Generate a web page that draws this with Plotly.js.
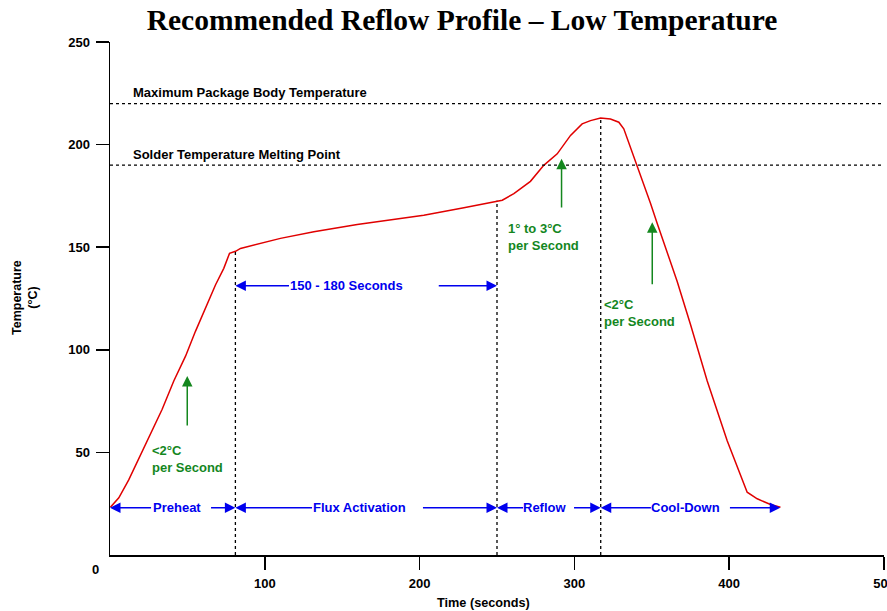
<!DOCTYPE html>
<html>
<head>
<meta charset="utf-8">
<script src="https://cdn.plot.ly/plotly-3.0.1.min.js"></script>
<style>html,body{margin:0;padding:0;background:#fff;}#chart{width:887px;height:611px;}</style>
</head>
<body>
<div id="chart"></div>
<script>
// Reflow profile curve (time in seconds, temperature in °C)
const timeS = [0.3, 5.7, 12.1, 20.8, 33.7, 41.2, 48.8, 55.2, 61.7, 68.2, 73.5, 77.2, 81.1, 84.3, 110.1, 131.7, 159.7, 181.2, 202.7, 228.6, 250.1, 253.4, 260.9, 271.6, 280.2, 288.9, 297.5, 302.8, 305.0, 310.4, 316.9, 323.3, 328.7, 331.9, 340.6, 349.2, 353.5, 366.4, 375.0, 385.8, 398.7, 405.2, 411.6, 418.1, 426.7, 433.1];
const tempC = [23.3, 27.9, 36.6, 50.8, 71.0, 84.8, 96.9, 109.0, 120.3, 131.7, 139.7, 147.0, 148.0, 149.4, 154.3, 157.5, 161.1, 163.2, 165.6, 169.2, 172.6, 172.9, 176.1, 182.1, 189.9, 195.5, 204.5, 208.5, 210.1, 211.7, 213.0, 212.5, 210.9, 207.7, 189.9, 171.3, 161.6, 133.3, 112.3, 84.8, 55.7, 42.7, 30.6, 27.4, 24.6, 23.3];

// Reference temperature limits
const limitTemps = [220, 190];
const limitLabels = ['Maximum Package Body Temperature', 'Solder Temperature Melting Point'];

// Phase boundaries (seconds) and the curve temperature at each dotted divider
const phaseBounds = [0, 81, 250, 317, 433];
const dividerTimes = [81, 250, 317];
const dividerTops = [148, 172.6, 213];
const phaseNames = ['Preheat', 'Flux Activation', 'Reflow', 'Cool-Down'];
const phaseLevel = 23;

// Soak duration span
const soakLabel = '150 - 180 Seconds';
const soakLevel = 131.2;

// Ramp-rate notes
const rampNotes = ['<2°C<br>per Second', '1° to 3°C<br>per Second', '<2°C<br>per Second'];

const xTicks = [100, 200, 300, 400, 500];
const yTicks = [50, 100, 150, 200, 250];

const BLUE = '#0000ee';
const GREEN = 'rgb(20,135,30)';
const RED = '#e00000';
const FONT = 'Liberation Sans, Arial, sans-serif';
const FS = 13;

const traces = [{
  x: timeS, y: tempC, type: 'scatter', mode: 'lines',
  line: {color: RED, width: 1.5}, hoverinfo: 'skip', showlegend: false
}];

const shapes = [];
limitTemps.forEach(t => shapes.push({
  type: 'line', xref: 'x', yref: 'y', x0: 0, x1: 500, y0: t, y1: t,
  line: {color: '#000', width: 1.3, dash: '3px,3px'}
}));
dividerTimes.forEach((t, i) => shapes.push({
  type: 'line', xref: 'x', yref: 'y', x0: t, x1: t, y0: 0, y1: dividerTops[i],
  line: {color: '#000', width: 1.3, dash: '3px,3px'}
}));

const annotations = [];
function arrow(x, y, ax, ay, color) {
  annotations.push({
    x: x, y: y, ax: ax, ay: ay, xref: 'x', yref: 'y', axref: 'x', ayref: 'y',
    text: '', showarrow: true, arrowhead: 2, arrowsize: 1.4, arrowwidth: 1.5,
    arrowcolor: color, standoff: 0, startstandoff: 0
  });
}
function label(x, y, text, color, xanchor) {
  annotations.push({
    x: x, y: y, xref: 'x', yref: 'y', text: text, showarrow: false,
    xanchor: xanchor || 'center', yanchor: 'middle', align: 'left',
    font: {family: FONT, size: FS, color: color}
  });
}

// limit labels
label(13.8, 225.5, '<b>' + limitLabels[0] + '</b>', '#000', 'left');
label(13.3, 195.4, '<b>' + limitLabels[1] + '</b>', '#000', 'left');

// phase arrows: [left tail, right tail, text centre]
const phaseGaps = [[27.5, 64.3, 43], [131.5, 201.2, 161.2], [267.8, 298.8, 281.3], [350.4, 399.5, 371.8]];
phaseNames.forEach((n, i) => {
  const g = phaseGaps[i];
  arrow(phaseBounds[i], phaseLevel, g[0], phaseLevel, BLUE);
  arrow(phaseBounds[i + 1], phaseLevel, g[1], phaseLevel, BLUE);
  label(g[2], phaseLevel, '<b>' + n + '</b>', BLUE);
});
arrow(phaseBounds[1], soakLevel, 116.6, soakLevel, BLUE);
arrow(phaseBounds[2], soakLevel, 211.4, soakLevel, BLUE);
label(152.7, soakLevel, '<b>' + soakLabel + '</b>', BLUE);

// ramp arrows (green, upward)
arrow(49.9, 87.2, 49.9, 62.4, GREEN);
arrow(291.7, 193.1, 291.7, 168.6, GREEN);
arrow(350.3, 162.1, 350.3, 131.2, GREEN);
label(25.8, 46.7, '<b>' + rampNotes[0] + '</b>', GREEN, 'left');
label(255.7, 154.9, '<b>' + rampNotes[1] + '</b>', GREEN, 'left');
label(317.9, 117.8, '<b>' + rampNotes[2] + '</b>', GREEN, 'left');

// corner zero, axis titles
annotations.push({xref: 'paper', yref: 'paper', x: -0.0181, y: -0.0292, text: '<b>0</b>', showarrow: false,
  xanchor: 'center', yanchor: 'middle', font: {family: FONT, size: FS, color: '#000'}});
annotations.push({xref: 'paper', yref: 'paper', x: 0.482, y: -0.0936, text: '<b>Time (seconds)</b>', showarrow: false,
  xanchor: 'center', yanchor: 'middle', font: {family: FONT, size: 12.7, color: '#000'}});
annotations.push({xref: 'paper', yref: 'paper', x: -0.1098, y: 0.501, text: '<b>Temperature<br>(°C)</b>', showarrow: false,
  textangle: -90, xanchor: 'center', yanchor: 'middle', font: {family: FONT, size: 12.5, color: '#000'}});

const axisCommon = {
  ticks: 'outside', ticklen: 13, tickwidth: 1.5, tickcolor: '#000',
  showline: true, linecolor: '#000', linewidth: 1.5, showgrid: false, zeroline: false,
  tickfont: {family: FONT, size: 13, color: '#000'}, fixedrange: true,
  ticklabeloverflow: 'allow', ticklabelstandoff: 3
};

const layout = {
  width: 887, height: 611,
  margin: {l: 110, r: 3, t: 42, b: 56},
  paper_bgcolor: '#fff', plot_bgcolor: '#fff',
  showlegend: false,
  title: {text: '<b>Recommended Reflow Profile – Low Temperature</b>', x: 462 / 887, xanchor: 'center',
    y: 1 - 20 / 611, yanchor: 'middle', yref: 'container', xref: 'container',
    font: {family: 'Liberation Serif, Times New Roman, serif', size: 29.5, color: '#000'}},
  xaxis: Object.assign({range: [0, 500], tickvals: xTicks, ticktext: xTicks.map(v => '<b>' + v + '</b>')}, axisCommon),
  yaxis: Object.assign({range: [0, 250], tickvals: yTicks, ticktext: yTicks.map(v => '<b>' + v + '</b>')}, axisCommon),
  shapes: shapes,
  annotations: annotations
};

Plotly.newPlot('chart', traces, layout, {displayModeBar: false, staticPlot: true});
</script>
</body>
</html>
